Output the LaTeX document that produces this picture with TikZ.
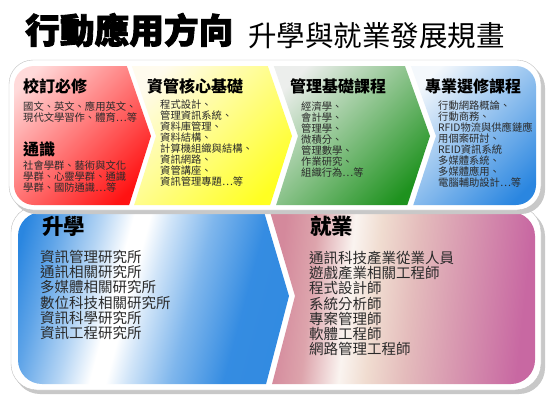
\documentclass[tikz,border=0pt]{standalone}
\usepackage{fontspec}
\newfontfamily\cjk{Noto Sans CJK TC}
\newfontfamily\cjkheavy[FakeBold=2.5]{Noto Sans CJK TC}
\usetikzlibrary{positioning}

\definecolor{framegray}{HTML}{C8C8C8}
\definecolor{redlite}{HTML}{FFDADA}
\definecolor{reddeep}{HTML}{FF1212}
\definecolor{yellowlite}{HTML}{FFFBEE}
\definecolor{yellowdeep}{HTML}{FFFF22}
\definecolor{greenlite}{HTML}{ECEEEC}
\definecolor{greendeep}{HTML}{1E921E}
\definecolor{bluelite}{HTML}{F4F8FC}
\definecolor{bluedeep}{HTML}{2A86E0}
\definecolor{listgray}{HTML}{2A2A2A}
\definecolor{jobA}{RGB}{212,137,156}
\definecolor{jobB}{RGB}{221,164,172}
\definecolor{jobC}{RGB}{250,244,240}
\definecolor{jobD}{RGB}{240,220,208}
\definecolor{jobE}{RGB}{228,188,188}
\definecolor{jobF}{RGB}{216,152,176}
\definecolor{jobG}{RGB}{200,104,162}

\pgfdeclarehorizontalshading{studyshade}{100bp}{color(0bp)=(bluedeep); color(23bp)=(bluedeep);
  color(29bp)=(bluedeep!75!white); color(37bp)=(bluedeep!35!white); color(43bp)=(white);
  color(46bp)=(white); color(50bp)=(bluedeep!22!white); color(58bp)=(bluedeep!60!white);
  color(68bp)=(bluedeep!95!white); color(100bp)=(bluedeep)}
\pgfdeclarehorizontalshading{jobshade}{100bp}{color(0bp)=(jobA); color(26bp)=(jobA);
  color(32bp)=(jobB); color(39bp)=(jobC); color(44bp)=(jobD); color(51bp)=(jobE);
  color(60bp)=(jobF); color(72bp)=(jobG); color(100bp)=(jobG)}

\tikzset{
  panelhead/.style={anchor=west, inner sep=0pt, font=\cjk\bfseries\fontsize{16}{16}\selectfont},
  panellist/.style={anchor=west, inner sep=0pt, align=left, text=listgray, font=\cjk\fontsize{10.3}{11}\selectfont},
  pathhead/.style={anchor=west, inner sep=0pt, font=\cjk\bfseries\fontsize{21.5}{22}\selectfont},
  pathlist/.style={anchor=west, inner sep=0pt, align=left, text=listgray, font=\cjk\fontsize{14.5}{15.2}\selectfont},
}

\begin{document}
\begin{tikzpicture}[x=1pt,y=-1pt]
	\useasboundingbox (0,0) rectangle (550,402);

	% titles
	\node[anchor=west, inner sep=0pt, font=\cjkheavy\bfseries\fontsize{34.7}{35}\selectfont] (maintitle) at (25,30) {行動應用方向};
	\node[anchor=west, inner sep=0pt, font=\cjk\fontsize{28.5}{28}\selectfont] (subtitle) at (248,36) {升學與就業發展規畫};

	% lower frame
	\fill[framegray,rounded corners=26pt] (14,210) rectangle (545,394);
	\filldraw[fill=white,draw=black!25,rounded corners=26pt] (11,206) rectangle (541,390);
	\begin{scope}
		\clip[rounded corners=24pt] (18,212) rectangle (535,384);
		\shade[shading=studyshade,shading angle=-15] (10,205) -- (262,205) -- (289,296) -- (264,392) -- (10,392) -- cycle;
		\shade[shading=jobshade,shading angle=-6] (268,205) -- (295,296) -- (270,392) -- (545,392) -- (545,205) -- cycle;
	\end{scope}

	% upper frame
	\fill[framegray,rounded corners=24pt] (12,64) rectangle (545,214);
	\filldraw[fill=white,draw=black!25,rounded corners=24pt] (9,60) rectangle (541,210);
	\begin{scope}
		\clip[rounded corners=20pt] (14,66) rectangle (536,205);
		\shade[top color=redlite,bottom color=reddeep,shading angle=45] (5,55) -- (123,55) -- (151,136) -- (126,215) -- (5,215) -- cycle;
		\shade[top color=yellowlite,bottom color=yellowdeep,shading angle=45] (128,55) -- (156,136) -- (131,215) -- (267,215) -- (292,136) -- (264,55) -- cycle;
		\shade[top color=greenlite,bottom color=greendeep,shading angle=45] (270,55) -- (298,136) -- (273,215) -- (404,215) -- (430,136) -- (401,55) -- cycle;
		\shade[top color=bluelite,bottom color=bluedeep,shading angle=45] (407,55) -- (436,136) -- (410,215) -- (545,215) -- (545,55) -- cycle;
	\end{scope}

	% upper panels
	\node[panelhead] (required) at (23,86) {校訂必修};
	\node[panellist] (requiredlist) at (23,112) {國文、英文、應用英文、\\現代文學習作、體育…等};
	\node[panelhead] (general) at (23,149) {通識};
	\node[panellist] (generallist) at (23,176.5) {社會學群、藝術與文化\\學群、心靈學群、通識\\學群、國防通識…等};
	\node[panelhead] (core) at (147,86) {資管核心基礎};
	\node[panellist] (corelist) at (160,143.5) {程式設計、\\管理資訊系統、\\資料庫管理、\\資料結構、\\計算機組織與結構、\\資訊網路、\\資管講座、\\資訊管理專題…等};
	\node[panelhead] (basic) at (290,86) {管理基礎課程};
	\node[panellist] (basiclist) at (301,140) {經濟學、\\會計學、\\管理學、\\微積分、\\管理數學、\\作業研究、\\組織行為…等};
	\node[panelhead] (elective) at (425,86) {專業選修課程};
	\node[panellist] (electivelist) at (438,144.5) {行動網路概論、\\行動商務、\\RFID物流與供應鏈應\\用個案研討、\\REID資訊系統\\多媒體系統、\\多媒體應用、\\電腦輔助設計…等};

	% lower panels
	\node[pathhead] (study) at (42,226) {升學};
	\node[pathlist] (studylist) at (40,295) {資訊管理研究所\\通訊相關研究所\\多媒體相關研究所\\數位科技相關研究所\\資訊科學研究所\\資訊工程研究所};
	\node[pathhead] (job) at (310,226) {就業};
	\node[pathlist] (joblist) at (309,303.5) {通訊科技產業從業人員\\遊戲產業相關工程師\\程式設計師\\系統分析師\\專案管理師\\軟體工程師\\網路管理工程師};
\end{tikzpicture}
\end{document}
